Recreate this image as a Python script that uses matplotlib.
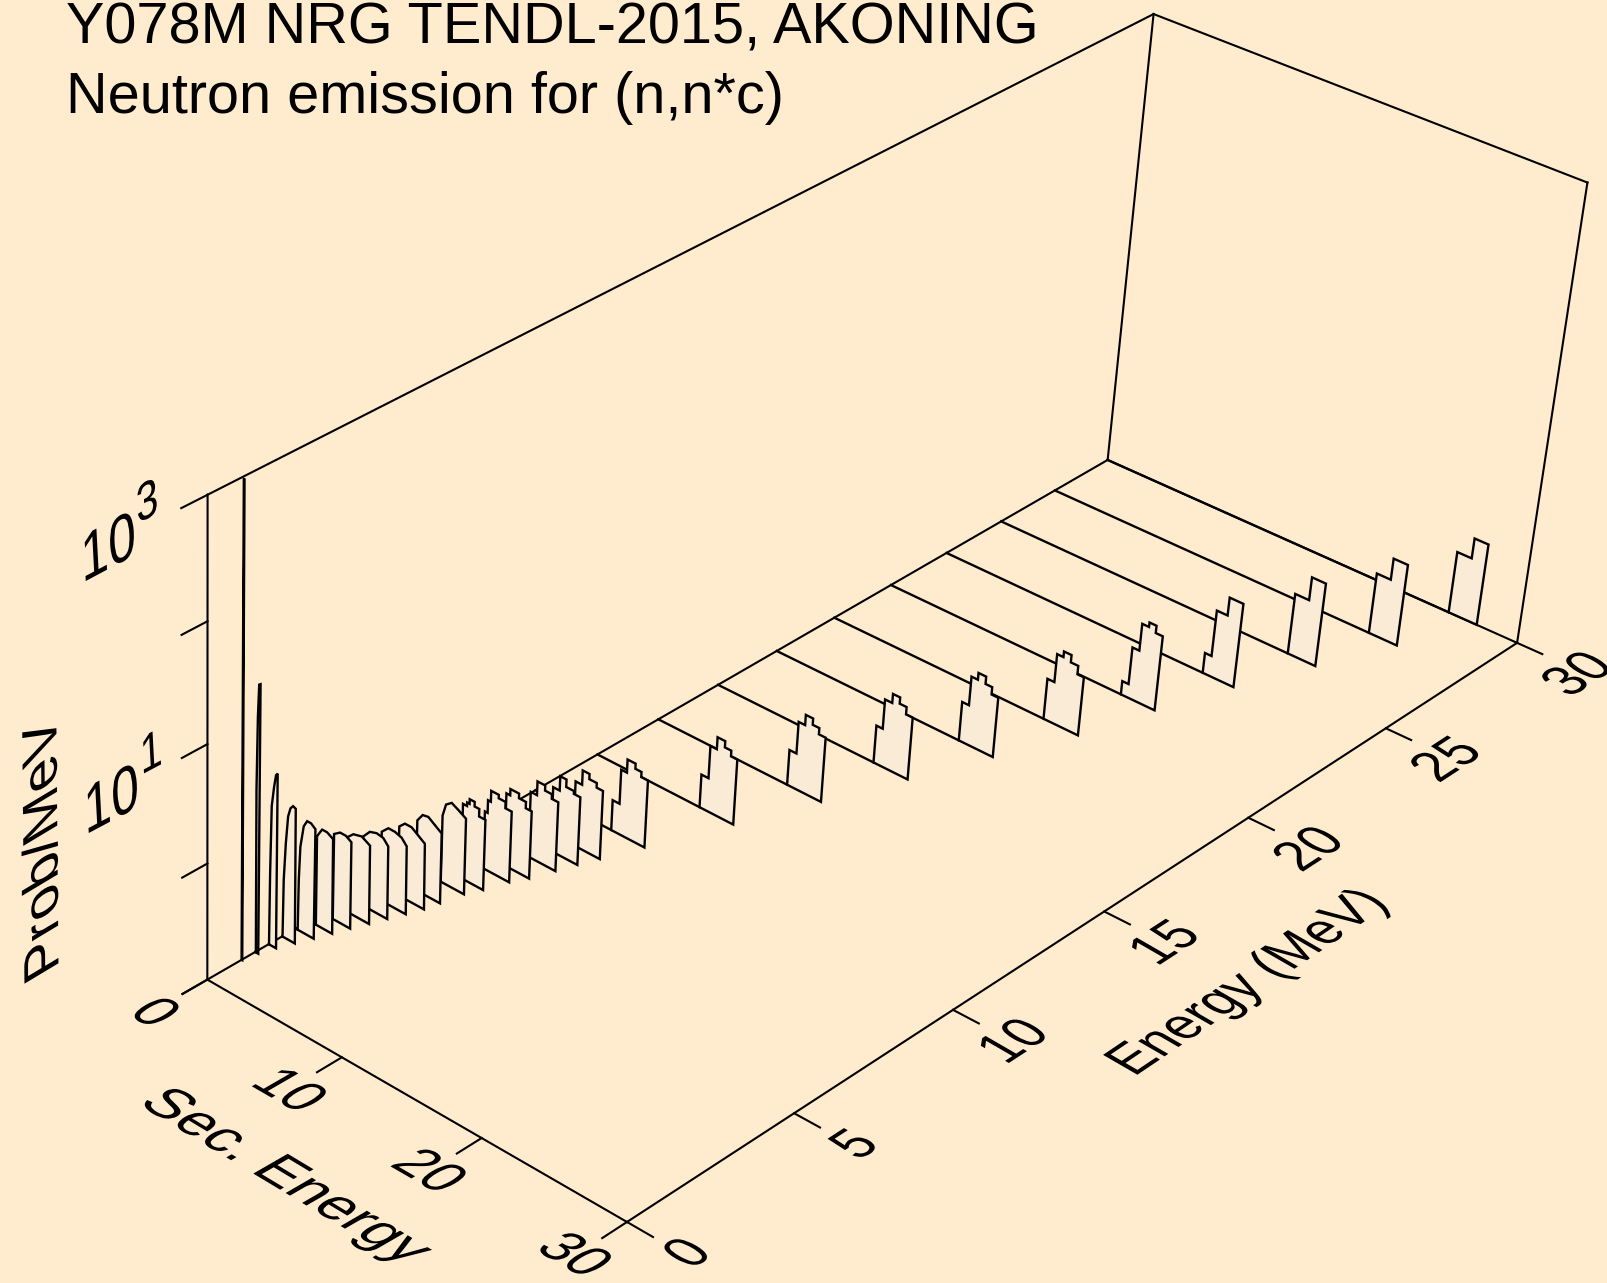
import numpy as np
import matplotlib
matplotlib.use('Agg')
import matplotlib.pyplot as plt
import matplotlib.patheffects as pe
from matplotlib.transforms import Affine2D

BACK = '#FFEBCD'
FILL = '#FAEBD7'
LW = 1.5
LW_CURVE = 1.7
FONT = 41.5

plt.rcParams['font.family'] = ['Liberation Sans', 'DejaVu Sans']

# incident energy (MeV) of every spectrum, nearest first
INCIDENT = [1.0, 1.4, 1.8, 2.2, 2.6, 3.0, 3.4, 3.8, 4.2, 4.6, 5.0, 5.4, 6.0,
            6.4, 7.0, 7.4, 8.0, 8.5, 9.0, 10, 12, 14, 16, 18, 20, 22, 24, 26, 28, 30]

# secondary energy and log10(prob/MeV).
# same length: curve points; one more energy than values: histogram bin edges
SEC = [
    [0.0, 0.05],
    [0.05, 0.02, 0.09, 0.17, 0.27, 0.23],
    [0.02, 0.06, 0.14, 0.30, 0.44, 0.56, 0.55],
    [0.02, 0.07, 0.20, 0.35, 0.52, 0.71, 0.91, 0.95],
    [0.15, 0.19, 0.28, 0.51, 0.76, 1.05, 1.38, 1.36],
    [0.51, 0.88, 1.25, 1.70, 1.74],
    [0.78, 1.22, 1.65, 2.07, 2.09],
    [0.73, 1.22, 1.84, 2.47, 2.51],
    [0.98, 1.46, 1.96, 2.46, 2.84, 2.88],
    [1.37, 1.85, 2.35, 2.85, 3.23, 3.28],
    [1.69, 2.10, 2.59, 3.10, 3.60, 3.66],
    [2.05, 2.43, 2.85, 3.35, 3.86, 3.88],
    [2.47, 2.70, 3.11, 3.61, 4.19, 4.21],
    [3.00, 3.30, 3.48, 3.85, 4.20, 4.67],
    [3.22, 3.42, 3.63, 4.19, 4.70, 5.17],
    [3.82, 4.10, 4.74, 5.26, 5.70],
    [4.21, 4.67, 5.24, 5.75, 6.23],
    [4.69, 5.17, 5.63, 6.20, 6.68],
    [5.17, 5.65, 6.15, 6.70, 7.17],
    [5.69, 6.20, 6.62, 7.21, 7.66, 8.15],
    [7.65, 8.17, 8.64, 9.20, 9.67, 10.13],
    [9.63, 10.14, 10.61, 11.14, 11.62, 12.11],
    [11.60, 12.06, 12.58, 13.10, 13.60, 14.08],
    [13.56, 14.05, 14.51, 15.06, 15.54, 16.02],
    [15.55, 16.05, 16.50, 17.04, 17.57, 18.03],
    [17.08, 17.53, 18.02, 18.50, 19.00, 19.50],
    [19.00, 19.47, 20.23, 21.20],
    [21.22, 22.20, 23.18],
    [23.22, 24.20, 25.20],
    [25.19, 26.20, 27.17],
]
LOG_PROB = [
    [2.98, 2.98],
    [-0.99, 0.40, 1.01, 1.28, 1.29, -1],
    [-0.99, -0.38, 0.20, 0.37, 0.48, 0.50, -1],
    [-1, -0.50, -0.18, 0.06, 0.14, 0.17, 0.16, -1],
    [-0.99, -0.56, -0.27, -0.08, -0.02, -0.02, -0.05, -1],
    [-0.23, -0.15, -0.15, -0.18, -1],
    [-0.26, -0.22, -0.22, -0.25, -1],
    [-0.36, -0.30, -0.28, -0.32, -1],
    [-0.40, -0.33, -0.31, -0.32, -0.37, -1],
    [-0.40, -0.34, -0.34, -0.36, -0.41, -1],
    [-0.40, -0.35, -0.35, -0.39, -0.43, -1],
    [-0.39, -0.32, -0.31, -0.35, -0.39, -1],
    [-0.42, -0.31, -0.27, -0.30, -0.34, -1],
    [-0.35, -0.32, -0.28, -0.32, -0.385],
    [-0.50, -0.39, -0.295, -0.325, -0.38],
    [-0.37, -0.315, -0.355, -0.41],
    [-0.43, -0.31, -0.355, -0.395],
    [-0.44, -0.315, -0.38, -0.405],
    [-0.44, -0.315, -0.36, -0.40],
    [-0.735, -0.435, -0.32, -0.365, -0.41],
    [-0.71, -0.425, -0.32, -0.375, -0.425],
    [-0.69, -0.41, -0.32, -0.375, -0.43],
    [-0.67, -0.41, -0.33, -0.385, -0.45],
    [-0.655, -0.40, -0.34, -0.405, -0.47],
    [-0.64, -0.39, -0.34, -0.405, -0.48],
    [-0.88, -0.55, -0.31, -0.27, -0.335],
    [-0.82, -0.41, -0.25],
    [-0.46, -0.255],
    [-0.46, -0.27],
    [-0.45, -0.27],
]

SEC_TICKS = [0, 10, 20, 30]
E_TICKS = [0, 5, 10, 15, 20, 25, 30]
Z_TICKS = [-1, 0, 1, 2, 3]

# where known box points fall in the picture: E, sec, log10(prob), px, py
VIEW = [
    (0, 0, -1, 207.7, 979.3), (0, 0, 3, 207.7, 495.0),
    (30, 0, -1, 1107.7, 460.0), (30, 0, 3, 1153.3, 13.3),
    (30, 30, -1, 1516.7, 643.3), (30, 30, 3, 1587.3, 182.7),
    (0, 30, -1, 625.2, 1221.7),
    (5, 30, -1, 796, 1113), (10, 30, -1, 954, 1009),
    (15, 30, -1, 1105, 912), (20, 30, -1, 1248, 818),
    (0, 10, -1, 341, 1057), (0, 20, -1, 480.5, 1138),
    (0, 0, 0, 207.7, 864), (0, 0, 1, 207.7, 744.5), (0, 0, 2, 207.7, 621.4),
]


def camera(view):
    rows = []
    for e, s, z, u, v in view:
        q = [e, s, z, 1]
        rows.append(q + [0] * 4 + [-u * c for c in q])
        rows.append([0] * 4 + q + [-v * c for c in q])
    return np.linalg.svd(np.array(rows, float))[2][-1].reshape(3, 4)


CAM = camera(VIEW)


def project(e, s, z):
    '''3D point(s) to picture pixels.'''
    s, z = np.broadcast_arrays(np.float64(s), np.float64(z))
    q = np.stack([np.full(s.shape, float(e)), s, z, np.ones(s.shape)])
    w = CAM @ q
    return w[0] / w[2], w[1] / w[2]


class Skew(pe.AbstractPathEffect):
    '''Keeps the baseline of a rotated text and leans its letters to another direction.'''

    def __init__(self, xy, base, up, sx, h):
        super().__init__()
        rel = np.radians(up - base)
        m = np.array([[sx, h * np.cos(rel), 0], [0, h * np.sin(rel), 0], [0, 0, 1]])
        self.tr = (Affine2D().translate(-xy[0], -xy[1]).rotate_deg(-base) + Affine2D(m)
                   + Affine2D().rotate_deg(base).translate(xy[0], xy[1]))

    def draw_path(self, renderer, gc, tpath, affine, rgbFace=None):
        renderer.draw_path(gc, tpath, affine + self.tr, rgbFace)


def label(ax, x, y, s, base, up, sx=1.0, h=1.0, size=FONT, ha='center'):
    t = ax.text(x, y, s, rotation=base, rotation_mode='anchor', ha=ha, va='baseline',
                fontsize=size, color='black', clip_on=False, zorder=100)
    t.set_path_effects([Skew(ax.transData.transform((x, y)), base, up, sx, h)])


def line3d(ax, a, b, lw=LW, zorder=1):
    pa = project(a[0], a[1], a[2])
    pb = project(b[0], b[1], b[2])
    ax.plot([pa[0], pb[0]], [pa[1], pb[1]], color='black', lw=lw,
            solid_capstyle='projecting', zorder=zorder)


def spectrum(ax, e, sec, logp, zorder):
    if len(sec) == len(logp) + 1:
        s = np.repeat(sec, 2)
        z = np.concatenate([[-1], np.repeat(logp, 2), [-1]])
    else:
        s = np.array([sec[0]] + list(sec))
        z = np.array([-1] + list(logp))
        if z[-1] != -1:
            s = np.append(s, s[-1])
            z = np.append(z, -1)
    line3d(ax, (e, 0, -1), (e, s[0], -1), LW_CURVE, zorder)
    px, py = project(e, s, z)
    ax.fill(px, py, facecolor=FILL, edgecolor='black', lw=LW_CURVE, joinstyle='miter',
            zorder=zorder)


fig = plt.figure(figsize=(16.07, 12.83), dpi=100, facecolor=BACK)
ax = fig.add_axes([0, 0, 1, 1])
ax.set_xlim(0, 1607)
ax.set_ylim(1283, 0)
ax.axis('off')

# box
for a, b in [((0, 0, -1), (30, 0, -1)), ((30, 0, -1), (30, 30, -1)),
             ((30, 30, -1), (0, 30, -1)), ((0, 30, -1), (0, 0, -1)),
             ((0, 0, -1), (0, 0, 3)), ((30, 0, -1), (30, 0, 3)), ((30, 30, -1), (30, 30, 3)),
             ((0, 0, 3), (30, 0, 3)), ((30, 0, 3), (30, 30, 3))]:
    line3d(ax, a, b)

# far spectra first so the near ones hide them
for i in range(len(INCIDENT)):
    spectrum(ax, INCIDENT[i], SEC[i], LOG_PROB[i], 2 + len(INCIDENT) - i)

# ticks
for z in Z_TICKS:
    line3d(ax, (0, 0, z), (-0.72, 0, z))
for s in SEC_TICKS:
    line3d(ax, (0, s, -1), (-0.72, s, -1))
    px, py = project(0, s, -1)
    label(ax, px - 68, py + 41.7, str(s), -30, 30, sx=0.92)
for e in E_TICKS:
    line3d(ax, (e, 30, -1), (e, 31.75, -1))
    px, py = project(e, 30, -1)
    label(ax, px + 76, py + 40, str(e), 33, 150, sx=0.87)

label(ax, 82, 583, '10', 28, 93, sx=0.97, h=1.15, ha='left')
label(ax, 137, 524, '3', 28, 93, sx=0.97, h=1.15, size=FONT * 0.8, ha='left')
label(ax, 85, 835, '10', 28, 93, sx=0.97, h=1.15, ha='left')
label(ax, 141, 775, '1', 28, 93, sx=0.97, h=1.15, size=FONT * 0.8, ha='left')

label(ax, 136.7, 1103.5, 'Sec. Energy', -31, 30, ha='left')
label(ax, 1134, 1077, 'Energy (MeV)', 34, 150, sx=0.87, ha='left')
label(ax, 58.5, 968, 'Prob/MeV', 90.5, 211, ha='left')

ax.text(66, 43.3, 'Y078M NRG TENDL-2015, AKONING', fontsize=FONT, va='baseline', ha='left')
ax.text(66, 112.7, 'Neutron emission for (n,n*c)', fontsize=FONT, va='baseline', ha='left')

fig.savefig('out.png', facecolor=BACK)
